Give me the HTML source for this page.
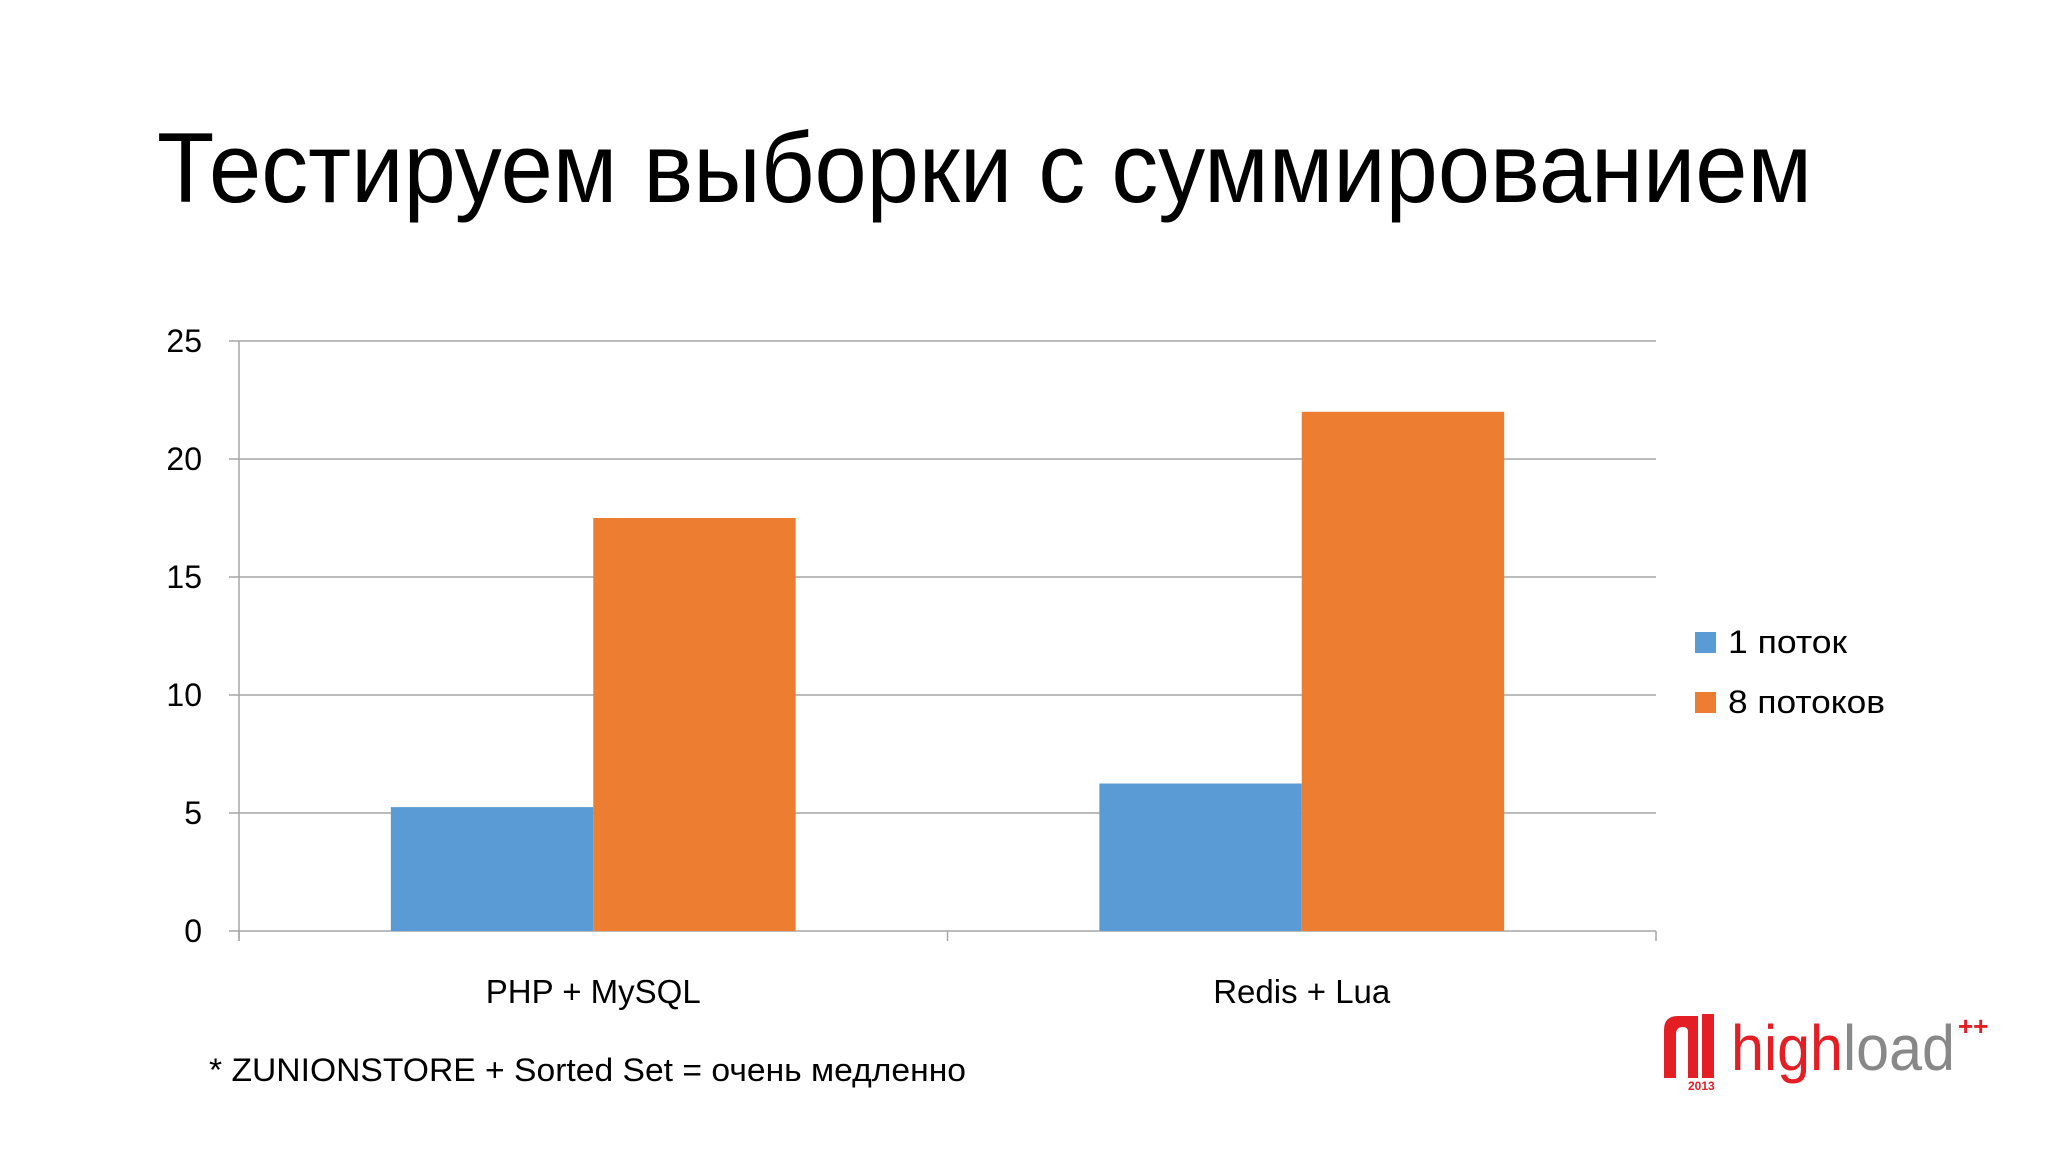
<!DOCTYPE html>
<html><head><meta charset="utf-8"><style>
html,body{margin:0;padding:0;background:#fff;}
svg{display:block;}
text{font-family:"Liberation Sans","DejaVu Sans",sans-serif;}
</style></head><body>
<svg id="chart" width="2048" height="1152" viewBox="0 0 2048 1152">
<text x="157" y="202" font-size="99" fill="#000" textLength="1655" lengthAdjust="spacingAndGlyphs">Тестируем выборки с суммированием</text>
<g id="grid"></g>
<g id="yticks"></g>
<g id="bars"></g>
<g id="xlabels"></g>
<g>
<rect x="1695" y="632" width="21" height="21" fill="#5b9bd5"/>
<text x="1728" y="653" font-size="32" fill="#000" textLength="119" lengthAdjust="spacingAndGlyphs">1 поток</text>
<rect x="1695" y="692" width="21" height="21" fill="#ed7d31"/>
<text x="1728" y="713" font-size="32" fill="#000" textLength="157" lengthAdjust="spacingAndGlyphs">8 потоков</text>
</g>
<text x="209" y="1081" font-size="32" fill="#000" textLength="757" lengthAdjust="spacingAndGlyphs">* ZUNIONSTORE + Sorted Set = очень медленно</text>
<g>
<path d="M1664 1078 V1030 Q1664 1016 1678 1016 H1698 V1078 H1688 V1032 Q1688 1027 1683 1027 Q1676 1027 1676 1034 V1078 Z" fill="#e31e24"/>
<rect x="1702" y="1014" width="12" height="64" fill="#e31e24"/>
<text x="1688" y="1090" font-size="12" font-weight="bold" fill="#e31e24">2013</text>
<text x="1731" y="1070" font-size="64" textLength="224" lengthAdjust="spacingAndGlyphs"><tspan fill="#e31e24">high</tspan><tspan fill="#888">load</tspan></text>
<text x="1958" y="1035" font-size="26" font-weight="bold" fill="#e31e24">++</text>
</g>
</svg>
<script>
const categories = ["PHP + MySQL", "Redis + Lua"];
const series1 = [5.25, 6.25];
const series8 = [17.5, 22.0];
const yTicks = [0, 5, 10, 15, 20, 25];
const NS = "http://www.w3.org/2000/svg";
const X0 = 239, X1 = 1656, Y0 = 931, YTOP = 341, YMAX = 25;
const y = v => Y0 - (v / YMAX) * (Y0 - YTOP);
const catW = (X1 - X0) / categories.length;
const barW = catW * 0.2857;
function mk(tag, attrs, parent) { const e = document.createElementNS(NS, tag); for (const k in attrs) e.setAttribute(k, attrs[k]); parent.appendChild(e); return e; }
const grid = document.getElementById('grid'), yt = document.getElementById('yticks'), bars = document.getElementById('bars'), xl = document.getElementById('xlabels');
yTicks.forEach(t => {
  const l = mk('line', {x1: X0 - 10, x2: X1, y1: y(t), y2: y(t), stroke: '#a6a6a6', 'stroke-width': 1.5}, grid);
  
  
  const tx = mk('text', {x: 202, y: y(t) + 11, 'font-size': 32, 'text-anchor': 'end', fill: '#000'}, yt);
  tx.textContent = t;
  
  
});
const ax = mk('line', {x1: X0, x2: X0, y1: YTOP, y2: Y0 + 10, stroke: '#a6a6a6', 'stroke-width': 1.5}, grid);


for (let i = 0; i <= categories.length; i++) {
  const tk = mk('line', {x1: X0 + i * catW, x2: X0 + i * catW, y1: Y0, y2: Y0 + 10, stroke: '#a6a6a6', 'stroke-width': 1.5}, grid);
  
  
}
categories.forEach((c, i) => {
  const cx = X0 + (i + 0.5) * catW;
  const b1 = mk('rect', {x: cx - barW, y: y(series1[i]), width: barW, height: Y0 - y(series1[i]), fill: '#5b9bd5'}, bars);
  
  
  const b8 = mk('rect', {x: cx, y: y(series8[i]), width: barW, height: Y0 - y(series8[i]), fill: '#ed7d31'}, bars);
  
  
  const t = mk('text', {x: cx, y: 1003, 'font-size': 33, 'text-anchor': 'middle', fill: '#000'}, xl);
  t.textContent = c;
  
  
});
</script>
</body></html>
